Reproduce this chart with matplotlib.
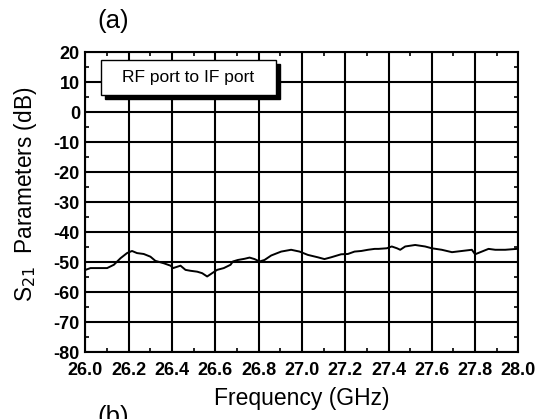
#!/usr/bin/env python3
"""S21 (RF port to IF port) versus frequency, panel (a)."""

import matplotlib

matplotlib.use("Agg")
import matplotlib.pyplot as plt
from matplotlib.patches import Rectangle
from matplotlib.ticker import MultipleLocator

plt.rcParams["font.family"] = ["Liberation Sans", "DejaVu Sans"]

# values
freq_ghz = [
    26.000, 26.023, 26.069, 26.100, 26.131, 26.162, 26.192, 26.215, 26.238,
    26.269, 26.300, 26.323, 26.362, 26.393, 26.405, 26.439, 26.462, 26.485,
    26.516, 26.539, 26.562, 26.585, 26.608, 26.639, 26.670, 26.681, 26.704,
    26.735, 26.758, 26.781, 26.804, 26.827, 26.858, 26.904, 26.950, 26.989,
    27.027, 27.073, 27.104, 27.135, 27.181, 27.212, 27.243, 27.274, 27.305,
    27.336, 27.354, 27.392, 27.415, 27.439, 27.454, 27.477, 27.523, 27.569,
    27.600, 27.646, 27.693, 27.739, 27.785, 27.800, 27.831, 27.862, 27.893,
    27.939, 27.993,
]
s21_db = [
    -52.5, -51.9, -51.9, -51.9, -50.8, -48.6, -46.9, -46.2, -46.9,
    -47.2, -48.1, -49.5, -50.3, -51.1, -51.9, -51.1, -52.5, -52.8,
    -53.1, -53.6, -54.7, -53.6, -52.5, -51.9, -50.8, -49.7, -49.2,
    -48.8, -48.4, -48.9, -49.7, -49.2, -47.7, -46.4, -45.8, -46.4,
    -47.5, -48.3, -48.9, -48.3, -47.3, -47.2, -46.4, -46.2, -45.8,
    -45.5, -45.5, -45.3, -44.7, -45.3, -45.8, -44.7, -44.2, -44.7,
    -45.3, -45.8, -46.6, -46.2, -45.8, -47.3, -46.4, -45.5, -45.8,
    -45.8, -45.5,
]
x_ticks = [26.0, 26.2, 26.4, 26.6, 26.8, 27.0, 27.2, 27.4, 27.6, 27.8, 28.0]
y_ticks = [20, 10, 0, -10, -20, -30, -40, -50, -60, -70, -80]
legend_text = "RF port to IF port"


def main() -> None:
    fig = plt.figure(figsize=(5.48, 4.19), dpi=100)
    ax = fig.add_axes([0.156, 0.159, 0.790, 0.716])

    ax.plot(freq_ghz, s21_db, color="black", linewidth=1.4, zorder=3)

    ax.set_xlim(26.0, 28.0)
    ax.set_ylim(-80, 20)
    ax.set_xticks(x_ticks)
    ax.set_xticklabels([f"{v:.1f}" for v in x_ticks])
    ax.set_yticks(y_ticks)
    ax.set_yticklabels([str(v) for v in y_ticks])
    ax.xaxis.set_minor_locator(MultipleLocator(0.1))
    ax.yaxis.set_minor_locator(MultipleLocator(5))
    ax.tick_params(which="both", direction="in", top=True, right=True,
                   color="black", width=1.2)
    ax.tick_params(which="major", length=4, labelsize=13)
    ax.tick_params(axis="x", which="major", pad=7)
    ax.tick_params(axis="y", which="major", pad=4)
    ax.tick_params(which="minor", length=3)
    for lab in ax.get_xticklabels() + ax.get_yticklabels():
        lab.set_fontweight("bold")
    ax.grid(True, which="major", color="black", linewidth=1.5)
    ax.set_axisbelow(True)
    for spine in ax.spines.values():
        spine.set_linewidth(1.5)

    ax.set_xlabel("Frequency (GHz)", fontsize=16.5)
    ax.xaxis.set_label_coords(0.5, -0.117)
    ax.set_ylabel("S$_{21}$  Parameters (dB)", fontsize=16.3)
    ax.yaxis.set_label_coords(-0.107, 0.528)

    # text-only legend box with a solid drop shadow
    bx, by, bw, bh = 0.035, 0.858, 0.405, 0.117
    dx, dy = 4 / 432.8, 4 / 299.8
    ax.add_patch(Rectangle((bx + dx, by - dy), bw, bh, transform=ax.transAxes,
                           facecolor="black", edgecolor="black", zorder=5))
    ax.add_patch(Rectangle((bx, by), bw, bh, transform=ax.transAxes,
                           facecolor="white", edgecolor="black", linewidth=1.0,
                           zorder=6))
    ax.text(bx + bw / 2, by + bh / 2, legend_text, transform=ax.transAxes,
            ha="center", va="center", fontsize=12.5, zorder=7)

    fig.text(0.207, 0.978, "(a)", fontsize=18.5, ha="center", va="top")
    fig.text(0.207, 0.033, "(b)", fontsize=18.5, ha="center", va="top")

    fig.savefig("out.png", dpi=100)
    plt.close(fig)


if __name__ == "__main__":
    main()
